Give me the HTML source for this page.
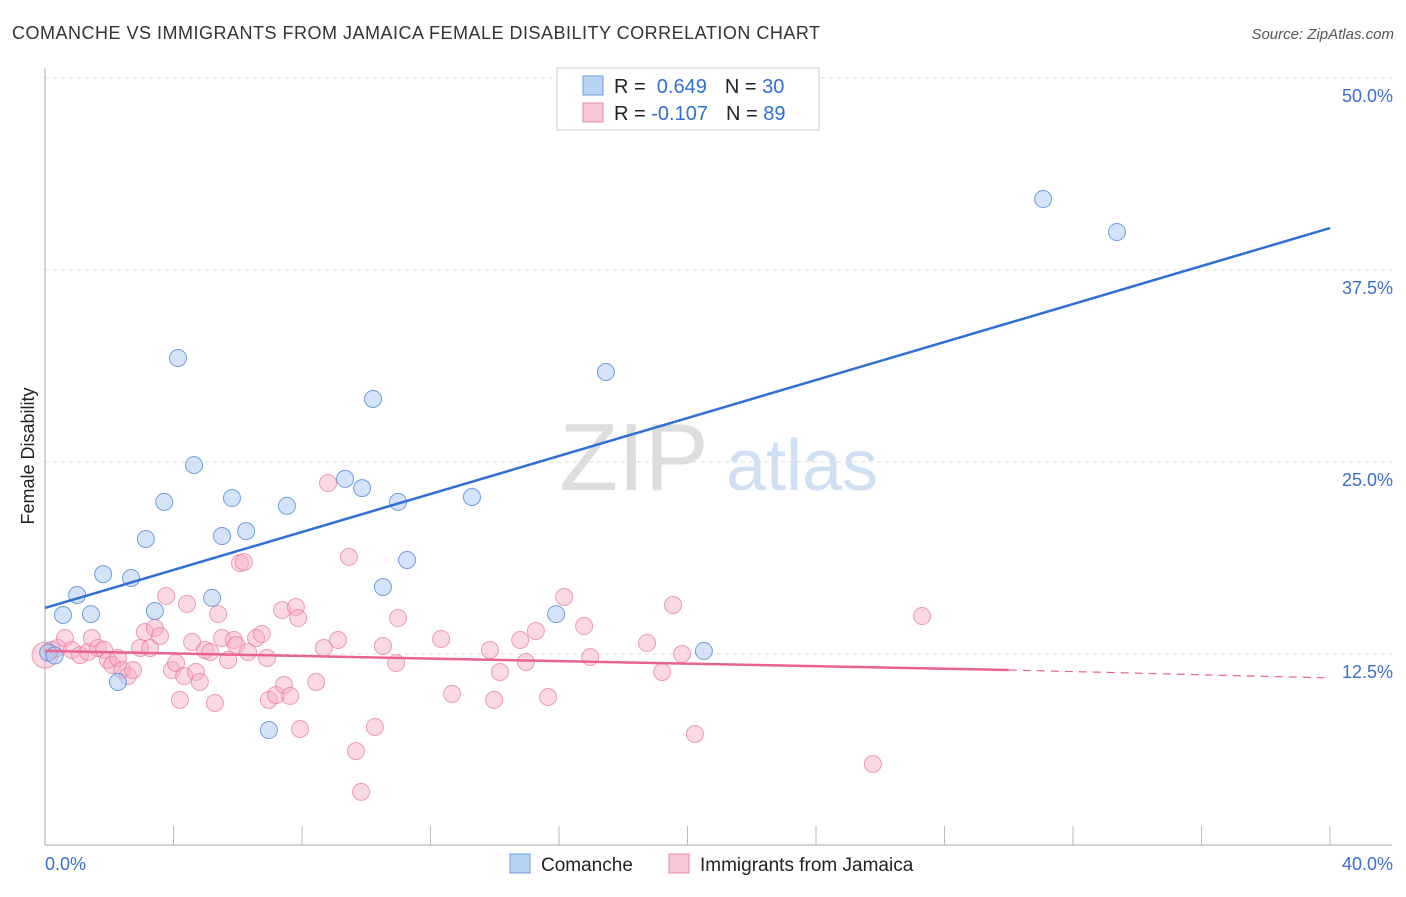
<!DOCTYPE html>
<html><head><meta charset="utf-8"><style>
body{margin:0;background:#fff;font-family:"Liberation Sans",sans-serif}
svg text{font-family:"Liberation Sans",sans-serif}
</style></head><body>
<svg id="c" width="1406" height="892" xmlns="http://www.w3.org/2000/svg">
<text x="12" y="39" font-size="18" fill="#333" textLength="808" lengthAdjust="spacing">COMANCHE VS IMMIGRANTS FROM JAMAICA FEMALE DISABILITY CORRELATION CHART</text>
<text x="1394" y="39" font-size="15" fill="#555" font-style="italic" text-anchor="end">Source: ZipAtlas.com</text>
<g><text x="634" y="490" font-size="96" fill="#ddd" font-family="Liberation Serif" text-anchor="middle">ZIP</text><text x="802" y="490" font-size="72" fill="#cfe0f5" text-anchor="middle">atlas</text></g>
<g id="grid"></g>
<line x1="45" y1="68" x2="45" y2="845" stroke="#aaa"/>
<line x1="45" y1="845" x2="1392" y2="845" stroke="#aaa"/>
<text transform="translate(34,456) rotate(-90)" font-size="18" fill="#222" text-anchor="middle">Female Disability</text>
<text x="45" y="870" font-size="18" fill="#3a6fd0">0.0%</text>
<text x="1393" y="870" font-size="18" fill="#3a6fd0" text-anchor="end">40.0%</text>
<g id="pts"></g>
<g id="lines"></g>
<g>
<rect x="557" y="68" width="262" height="62" fill="#fff" stroke="#ccc"/>
<rect x="583" y="76" width="20" height="19" fill="#b9d3f5" stroke="#6b9de0"/>
<rect x="583" y="103" width="20" height="19" fill="#f9c6d5" stroke="#e68aa6"/>
<text x="614" y="93" font-size="20" fill="#222">R = <tspan fill="#2f6fd6">&#160;0.649</tspan><tspan dx="18">N = </tspan><tspan fill="#2f6fd6">30</tspan></text>
<text x="614" y="120" font-size="20" fill="#222">R = <tspan fill="#2f6fd6">-0.107</tspan><tspan dx="18">N = </tspan><tspan fill="#2f6fd6">89</tspan></text>
</g>
<g>
<rect x="510" y="854" width="20" height="19" fill="#b9d3f5" stroke="#6b9de0"/>
<text x="541" y="871" font-size="19" fill="#222">Comanche</text>
<rect x="669" y="854" width="20" height="19" fill="#f9c6d5" stroke="#e68aa6"/>
<text x="700" y="871" font-size="19" fill="#222">Immigrants from Jamaica</text>
</g>
</svg>
<script>
const yTicks=[12.5,25,37.5,50];
const yTickLabels=["12.5%","25.0%","37.5%","50.0%"];
const xTicks=[0,4,8,12,16,20,24,28,32,36,40];
const blueX=[0.56,1.0,1.43,1.81,2.27,2.68,3.14,3.42,3.71,4.14,4.64,5.2,5.51,5.82,6.26,6.97,7.53,9.34,9.87,10.21,10.52,10.99,11.27,13.29,15.91,17.46,20.51,31.07,33.37,0.1,0.3];
const blueY=[15.04,16.34,15.1,17.7,10.68,17.45,19.99,15.3,22.4,31.77,24.8,16.15,20.18,22.66,20.5,7.55,22.14,23.9,23.3,29.1,16.86,22.4,18.62,22.72,15.1,30.86,12.7,42.12,39.97,12.6,12.4];
const pinkX=[0,.22,.4,.62,.84,1.09,1.34,1.46,1.65,1.84,1.96,2.09,2.27,2.4,2.58,2.74,2.96,3.11,3.27,3.42,3.58,3.77,3.95,4.08,4.2,4.33,4.42,4.58,4.7,4.82,4.98,5.14,5.29,5.39,5.51,5.7,5.88,5.95,6.07,6.19,6.32,6.57,6.75,6.91,6.97,7.19,7.38,7.44,7.63,7.81,7.88,7.94,8.44,8.68,8.81,9.12,9.46,9.68,9.84,10.27,10.52,10.93,10.99,12.33,12.67,13.85,13.98,14.16,14.79,14.97,15.28,15.66,16.16,16.78,16.97,18.74,19.21,19.55,19.83,20.23,25.77,27.3];
const pinkY=[12.43,12.76,12.89,13.54,12.76,12.43,12.63,13.54,12.89,12.76,12.11,11.78,12.24,11.46,11.07,11.46,12.89,13.93,12.89,14.19,13.67,16.28,11.46,11.91,9.51,11.07,15.76,13.28,11.33,10.68,12.76,12.63,9.31,15.1,13.54,12.11,13.41,13.09,18.42,18.49,12.63,13.54,13.8,12.24,9.51,9.83,15.36,10.48,9.77,15.56,14.84,7.62,10.68,12.89,23.63,13.41,18.82,6.18,3.52,7.75,13.02,11.91,14.84,13.48,9.9,12.76,9.51,11.33,13.41,11.98,14.0,9.7,16.21,14.32,12.3,13.22,11.33,15.69,12.5,7.29,5.34,14.97];
const blueTrend=[15.5,40.23];
const pinkTrend=[12.7,11.46,10.94];
const NS="http://www.w3.org/2000/svg";
const X=v=>45+v*32.125, Y=v=>846-v*15.36;
function mk(t,a,p){const e=document.createElementNS(NS,t);for(const k in a)e.setAttribute(k,a[k]);document.getElementById(p).appendChild(e);return e;}
yTicks.forEach((t,i)=>{
 const l=mk('line',{x1:45,x2:1392,y1:Y(t),y2:Y(t),stroke:'#ddd','stroke-dasharray':'4,4'},'grid');
 
 
 const tx=mk('text',{x:1393,y:Y(t)+24,'font-size':18,fill:'#3a6fd0','text-anchor':'end'},'grid');
 tx.textContent=yTickLabels[i];
 
 
});
xTicks.forEach(t=>{
 const l=mk('line',{x1:X(t),x2:X(t),y1:826,y2:845,stroke:'#bbb'},'grid');
 
 
});
pinkX.forEach((x,i)=>{
 const c=mk('circle',{cx:X(x),cy:Y(pinkY[i]),r:i==0?13:8.5,fill:'rgba(246,170,195,0.45)',stroke:'rgba(228,120,155,0.7)','stroke-width':1},'pts');
 
 
});
blueX.forEach((x,i)=>{
 const c=mk('circle',{cx:X(x),cy:Y(blueY[i]),r:8.5,fill:'rgba(170,200,240,0.5)',stroke:'rgba(80,135,215,0.8)','stroke-width':1},'pts');
 
 
});
let b=mk('line',{x1:X(0),y1:Y(blueTrend[0]),x2:X(40),y2:Y(blueTrend[1]),stroke:'#2f6fd6','stroke-width':2.5},'lines');


let p=mk('line',{x1:X(0),y1:Y(pinkTrend[0]),x2:X(30),y2:Y(pinkTrend[1]),stroke:'#e8638d','stroke-width':2.5},'lines');


let pd=mk('line',{x1:X(30),y1:Y(pinkTrend[1]),x2:X(40),y2:Y(pinkTrend[2]),stroke:'#e8638d','stroke-width':1.2,'stroke-dasharray':'8,6'},'lines');


</script>
</body></html>
